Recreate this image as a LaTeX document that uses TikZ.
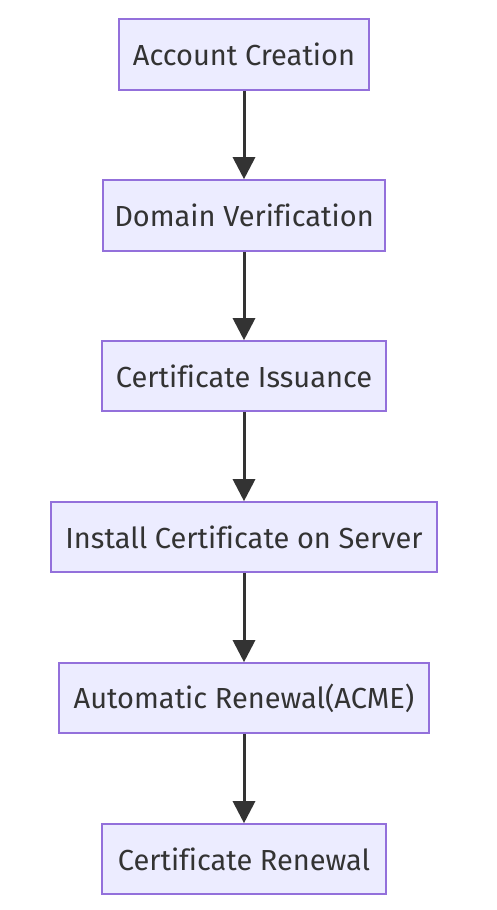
\documentclass[tikz,border=0pt]{standalone}
\usepackage{fontspec}
\setmainfont{Fira Sans}[Ligatures=NoCommon]
\usetikzlibrary{arrows.meta}
\definecolor{nodefill}{HTML}{ECECFF}
\definecolor{nodeborder}{HTML}{9370DB}
\definecolor{edgecol}{HTML}{333333}
\definecolor{textcol}{HTML}{333333}
\begin{document}
\begin{tikzpicture}[x=1pt,y=-1pt,
  box/.style={draw=nodeborder,fill=nodefill,line width=1.6pt,inner sep=0pt,anchor=center,
    text=textcol,font=\fontsize{29}{34}\selectfont},
  flow/.style={draw=edgecol,line width=3pt,-{Triangle[length=22pt,width=22pt]}}]
\useasboundingbox (0,0) rectangle (496,910);
\node[box,minimum width=250pt,minimum height=71pt] (n1) at (244,54.5) {Account Creation};
\node[box,minimum width=282pt,minimum height=71pt] (n2) at (244,215.5) {Domain Verification};
\node[box,minimum width=284pt,minimum height=70pt] (n3) at (244,376) {Certificate Issuance};
\node[box,minimum width=386pt,minimum height=70pt] (n4) at (244,537) {Install Certificate on Server};
\node[box,minimum width=370pt,minimum height=70pt] (n5) at (244,698) {Automatic Renewal(ACME)};
\node[box,minimum width=284pt,minimum height=70pt] (n6) at (244,859) {Certificate Renewal};
\draw[flow] (n1) -- (n2);
\draw[flow] (n2) -- (n3);
\draw[flow] (n3) -- (n4);
\draw[flow] (n4) -- (n5);
\draw[flow] (n5) -- (n6);
\end{tikzpicture}
\end{document}
